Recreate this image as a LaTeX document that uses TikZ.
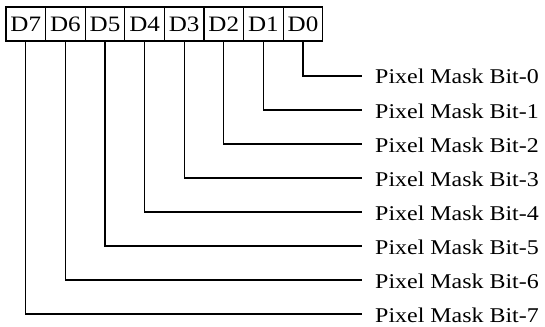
\documentclass[tikz,border=0pt]{standalone}
\usepackage{fontspec}
\setmainfont[FakeStretch=1.14]{Liberation Serif}
\usetikzlibrary{positioning}

\tikzset{
  bitbox/.style={draw, line width=1.3pt, minimum width=39.6pt, minimum height=34pt,
    inner sep=0pt, font=\fontsize{22}{24}\selectfont},
  masklabel/.style={anchor=west, inner xsep=13pt, inner ysep=0pt,
    text height=16pt, text depth=0pt, font=\fontsize{21}{24}\selectfont},
  wire/.style={line width=1.3pt}
}

\begin{document}
\begin{tikzpicture}[x=1pt, y=-1pt]
  \useasboundingbox (0,0) rectangle (545,326);

  % register boxes D7 ... D0
  \foreach \i in {7,...,0}
    \node[bitbox] (d\i) at ({25.8 + (7-\i)*39.6}, 24) {D\i};

  % labels
  \foreach \i in {0,...,7}
    \node[masklabel] (bit\i) at (362, {76 + \i*34}) {Pixel Mask Bit-\i};

  % wires
  \foreach \i in {0,...,7}
    \draw[wire] (d\i.south) |- (bit\i.west);
\end{tikzpicture}
\end{document}
